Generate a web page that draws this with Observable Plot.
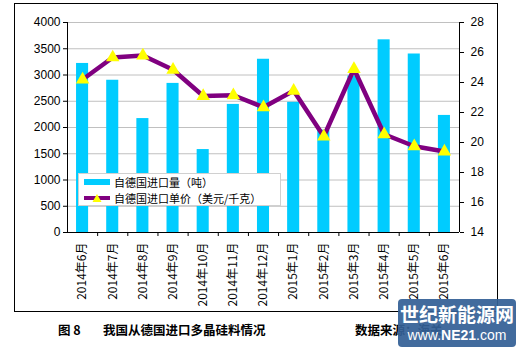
<!DOCTYPE html>
<html><head><meta charset="utf-8">
<script src="https://cdn.jsdelivr.net/npm/d3@7"></script>
<script src="https://cdn.jsdelivr.net/npm/@observablehq/plot@0.6"></script>
<style>
body{margin:0;background:#fff;font-family:"Liberation Sans",Arial,"Noto Sans CJK SC",sans-serif;}
#wrap{position:relative;width:522px;height:354px;overflow:hidden;}
#frame{position:absolute;left:14px;top:3px;width:482px;height:307px;border:1px solid #000;}
#chart{position:absolute;left:0;top:0;}
#legend{position:absolute;left:78px;top:173px;width:203px;height:33px;background:#fff;border:1px solid #d0d0d0;box-sizing:border-box;font-family:"Noto Sans CJK SC",sans-serif;font-size:11px;}
.row{position:absolute;left:4px;height:14px;display:flex;align-items:center;}
.row span{display:inline-block;height:14px;line-height:14px;overflow:visible;margin-left:3px;}
.cap{position:absolute;top:322px;height:15px;line-height:15px;font-family:"Noto Sans CJK SC",sans-serif;font-weight:bold;font-size:12.5px;}
#wm{position:absolute;left:398px;top:299px;width:118px;height:48px;background:rgba(52,96,150,0.93);border-radius:4px;color:#fff;text-align:center;font-family:"Noto Sans CJK SC",sans-serif;}
#wm div{position:absolute;left:0;width:118px;overflow:visible;}
</style></head>
<body>
<div id="wrap">
<div id="frame"></div>
<div id="chart"></div>
<div id="legend">
 <div class="row" style="top:1px"><svg width="28" height="12"><rect x="1" y="3" width="26" height="6" fill="#00CCFF"/></svg><span>自德国进口量（吨）</span></div>
 <div class="row" style="top:17px"><svg width="28" height="12"><line x1="1" y1="6" x2="27" y2="6" stroke="#800080" stroke-width="4"/><path d="M14,2 L18.5,10 L9.5,10 Z" fill="#FFFF00"/></svg><span>自德国进口单价（美元/千克）</span></div>
</div>
<div class="cap" style="left:58px">图 8</div>
<div class="cap" style="left:103px">我国从德国进口多晶硅料情况</div>
<div class="cap" style="left:355px">数据来源：海关</div>
<div id="wm"><div style="top:4px;height:22px;font-size:19px;font-weight:bold;line-height:22px;">世纪新能源网</div><div style="top:28px;height:16px;font-size:14px;line-height:16px;font-family:'Liberation Sans',sans-serif">www.<b>NE21</b>.com</div></div>
</div>
<script>
const months = ["2014年6月","2014年7月","2014年8月","2014年9月","2014年10月","2014年11月","2014年12月","2015年1月","2015年2月","2015年3月","2015年4月","2015年5月","2015年6月"];
const qty = [3220, 2900, 2170, 2840, 1580, 2440, 3300, 2480, 1950, 2980, 3670, 3400, 2230];
const price = [24.2, 25.67, 25.8, 24.85, 23.1, 23.15, 22.35, 23.45, 20.4, 24.9, 20.55, 19.75, 19.4];
const leftTicks = [0,500,1000,1500,2000,2500,3000,3500,4000];
const rightTicks = [14,16,18,20,22,24,26,28];

const toLeft = p => (p - 14) * 4000 / 14;
const data = months.map((m, i) => ({i, m, qty: qty[i], p: toLeft(price[i])}));
const idx = months.map((m, i) => i);

const chart = Plot.plot({
  width: 522, height: 312,
  marginLeft: 67, marginRight: 63, marginTop: 22, marginBottom: 80,
  style: {fontFamily: '"Liberation Sans",Arial,"Noto Sans CJK SC",sans-serif', fontSize: "12px", color: "#000"},
  x: {domain: [-0.5, 12.5]},
  y: {domain: [0, 4000]},
  marks: [
    Plot.gridY(leftTicks, {stroke: "#c0c0c0", strokeOpacity: 1}),
    Plot.rectY(data, {x1: d => d.i - 0.2, x2: d => d.i + 0.2, y: "qty", fill: "#00CCFF"}),
    Plot.line(data, {x: "i", y: "p", stroke: "#800080", strokeWidth: 4.5, strokeLinejoin: "round"}),
    Plot.dot(data, {x: "i", y: "p", symbol: "triangle", r: 5, fill: "#FFFF00", stroke: "none"}),
    Plot.ruleY([0], {stroke: "#000"}),
    Plot.ruleX([-0.5], {stroke: "#000"}),
    Plot.ruleX([12.5], {stroke: "#000"}),
    Plot.axisY(leftTicks, {anchor: "left", tickSize: 4, tickPadding: 3, label: null, stroke: "#000", tickFormat: d => String(d)}),
    Plot.axisY(rightTicks.map(toLeft), {anchor: "right", tickSize: 4, tickPadding: 7, label: null, tickFormat: v => String(Math.round(v * 14 / 4000 + 14)), stroke: "#000"}),
    Plot.axisX(idx, {anchor: "bottom", tickSize: 0, tickPadding: 10, tickRotate: -90, label: null, tickFormat: i => months[i], fontFamily: '"Noto Sans CJK SC",sans-serif'}),
    Plot.axisX(idx.map(i => i + 0.5).slice(0, 12), {anchor: "bottom", tickSize: 4, tickFormat: () => "", label: null, stroke: "#000"})
  ]
});
document.getElementById("chart").appendChild(chart);
</script>
</body></html>
